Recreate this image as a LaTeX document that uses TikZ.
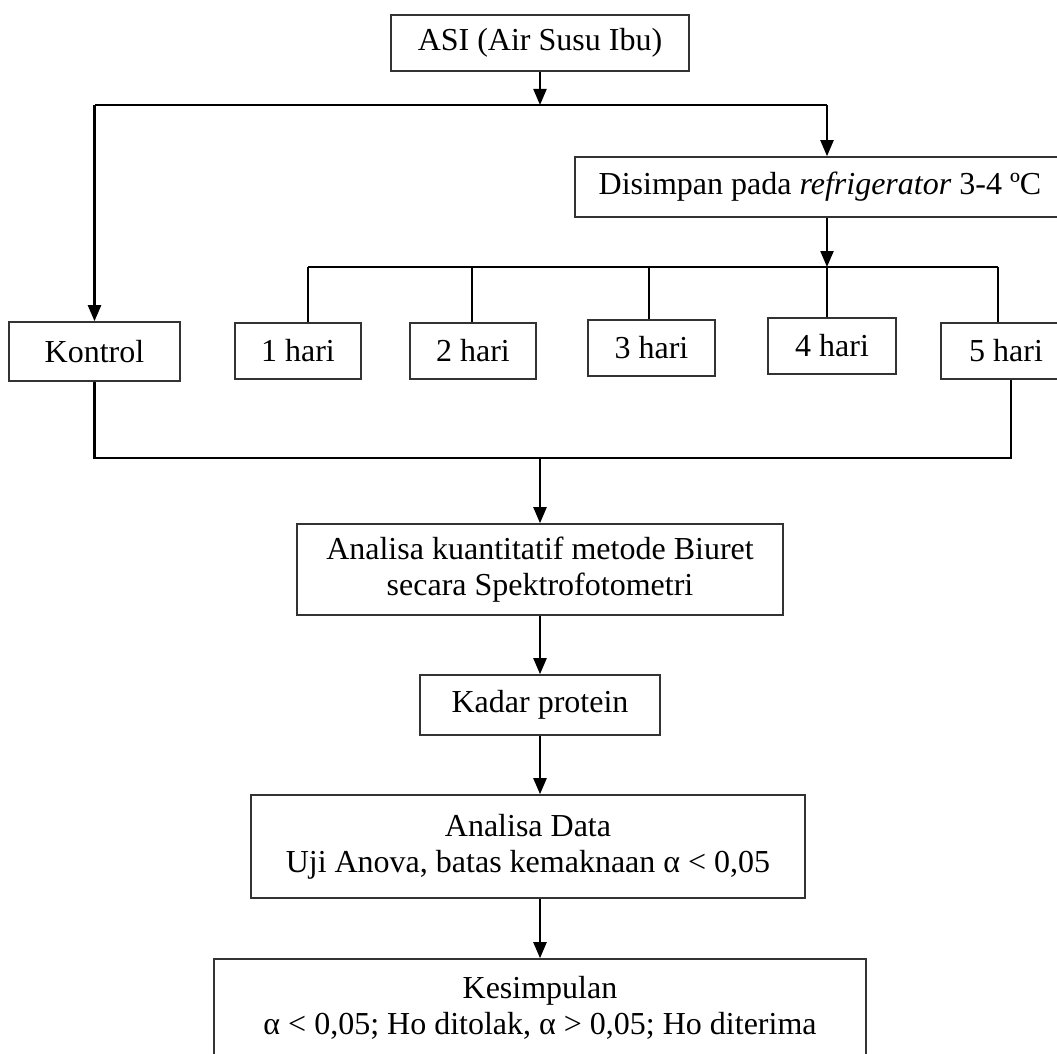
\documentclass[tikz,border=0pt]{standalone}
\usepackage{fontspec}
\setmainfont{Liberation Serif}
\usetikzlibrary{arrows.meta}
\newcommand\boxfont{\fontsize{32}{36}\selectfont}
\tikzset{
  box/.style={draw=black!80, line width=1.6pt, inner sep=0pt, align=center, font=\boxfont, text=black},
  conn/.style={line width=2.2pt, draw=black},
  arr/.style={conn, -{Triangle[length=16pt,width=13pt]}},
}
\begin{document}
\begin{tikzpicture}[x=1pt, y=-1pt]
\useasboundingbox (0,0) rectangle (1057,1054);
\clip (0,0) rectangle (1057,1054);
\fill[white] (0,0) rectangle (1057,1054);

% nodes
\node[box, minimum width=298, minimum height=56] (asi) at (540,43) {ASI (Air Susu Ibu)};
\node[box, minimum width=490, minimum height=60] (disimpan) at (820,187) {Disimpan pada \textit{refrigerator} 3-4 ºC};
\node[box, minimum width=171, minimum height=59] (kontrol) at (94.5,351.5) {Kontrol};
\node[box, minimum width=126, minimum height=56] (h1) at (298,351) {1 hari};
\node[box, minimum width=126, minimum height=56] (h2) at (473,351) {2 hari};
\node[box, minimum width=127, minimum height=56] (h3) at (651.5,348) {3 hari};
\node[box, minimum width=128, minimum height=56] (h4) at (832,346) {4 hari};
\node[box, minimum width=130, minimum height=56] (h5) at (1006,351) {5 hari};
\node[box, minimum width=486, minimum height=91] (biuret) at (540,569.5) {Analisa kuantitatif metode Biuret\\secara Spektrofotometri};
\node[box, minimum width=240, minimum height=60] (kadar) at (540,705) {Kadar protein};
\node[box, minimum width=554, minimum height=103] (data) at (528,846.5) {Analisa Data\\Uji Anova, batas kemaknaan α < 0,05};
\node[box, minimum width=652, minimum height=98] (kes) at (540,1008) {Kesimpulan\\α < 0,05; Ho ditolak, α > 0,05; Ho diterima};

% junction coordinates
\coordinate (j1) at (540,105);
\coordinate (j1L) at (94.5,105);
\coordinate (j1R) at (827,105);
\coordinate (j2) at (827,267);
\coordinate (l2a) at (308,267);
\coordinate (l2b) at (472,267);
\coordinate (l2c) at (649,267);
\coordinate (l2e) at (998,267);
\coordinate (b5) at (1011,458);
\coordinate (j3) at (540,458);

% connectors
\draw[arr] (asi.south) -- (j1);
\draw[conn] (j1L) -- (j1R);
\draw[arr] (j1L) -- (kontrol.north);
\draw[arr] (j1R) -- (j1R |- disimpan.north);
\draw[arr] (j2 |- disimpan.south) -- (j2);
\draw[conn] (l2a) -- (l2e);
\draw[conn] (l2a) -- (l2a |- h1.north);
\draw[conn] (l2b) -- (l2b |- h2.north);
\draw[conn] (l2c) -- (l2c |- h3.north);
\draw[conn] (j2) -- (j2 |- h4.north);
\draw[conn] (l2e) -- (l2e |- h5.north);
\draw[conn] (kontrol.south) |- (b5) -- (b5 |- h5.south);
\draw[arr] (j3) -- (biuret.north);
\draw[arr] (biuret.south) -- (kadar.north);
\draw[arr] (kadar.south) -- (kadar.south |- data.north);
\draw[arr] (kadar.south |- data.south) -- (kes.north);
\end{tikzpicture}
\end{document}
